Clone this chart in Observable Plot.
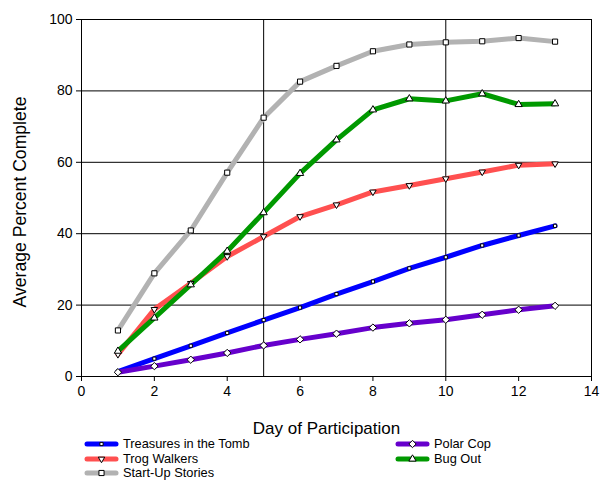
<!DOCTYPE html>
<html>
<head>
<meta charset="utf-8">
<script src="https://cdn.jsdelivr.net/npm/d3@7"></script>
<script src="https://cdn.jsdelivr.net/npm/@observablehq/plot@0.6"></script>
<style>
  html, body { margin: 0; padding: 0; background: #fff; }
  #chart { position: relative; width: 600px; height: 480px; }
  #chart svg { display: block; }
  #legend { position: absolute; left: 0; top: 434px; }
</style>
</head>
<body>
<div id="chart"></div>
<script>
const days = [1, 2, 3, 4, 5, 6, 7, 8, 9, 10, 11, 12, 13];
const seriesNames = ["Treasures in the Tomb", "Trog Walkers", "Start-Up Stories", "Polar Cop", "Bug Out"];
const treasures = [1.4, 5.0, 8.6, 12.2, 15.8, 19.3, 23.1, 26.6, 30.3, 33.4, 36.7, 39.5, 42.2];
const trogWalkers = [6.2, 18.8, 26.1, 33.6, 39.2, 44.8, 48.1, 51.7, 53.5, 55.4, 57.3, 59.2, 59.6];
const startUp = [12.9, 28.9, 40.9, 57.1, 72.5, 82.6, 87.0, 91.1, 93.0, 93.6, 93.9, 94.8, 93.8];
const polarCop = [1.2, 2.9, 4.7, 6.6, 8.7, 10.4, 12.0, 13.7, 14.9, 15.9, 17.3, 18.7, 19.8];
const bugOut = [7.1, 16.4, 25.7, 35.1, 45.9, 56.9, 66.3, 74.7, 77.8, 77.2, 79.2, 76.2, 76.4];
const seriesColors = ["#0000FF", "#FF5050", "#B2B2B2", "#6600CC", "#009900"];
const xTicks = [0, 2, 4, 6, 8, 10, 12, 14];
const yTicks = [0, 20, 40, 60, 80, 100];

const allValues = [treasures, trogWalkers, startUp, polarCop, bugOut];
const symbols = [
  {symbol: "square", r: 1.8, rotate: 0},
  {symbol: "triangle", r: 2.4, rotate: 180},
  {symbol: "square", r: 2.9, rotate: 0},
  {symbol: "diamond2", r: 3.3, rotate: 0},
  {symbol: "triangle", r: 2.7, rotate: 0}
];

const data = seriesNames.flatMap((name, i) =>
  days.map((d, j) => ({series: name, day: d, value: allValues[i][j]}))
);

const font = "'Liberation Sans', Arial, sans-serif";

const chart = Plot.plot({
  width: 600,
  height: 440,
  marginLeft: 81,
  marginRight: 9,
  marginTop: 19,
  marginBottom: 64,
  x: {domain: [0, 14]},
  y: {domain: [0, 100]},
  color: {domain: seriesNames, range: seriesColors},
  style: {fontFamily: font, fontSize: "14px", color: "#000", background: "#fff"},
  marks: [
    Plot.gridY([20, 40, 60, 80], {stroke: "#000", strokeOpacity: 1, strokeWidth: 1}),
    Plot.gridX([5, 10], {stroke: "#000", strokeOpacity: 1, strokeWidth: 1}),
    Plot.frame({stroke: "#000", strokeWidth: 1}),
    Plot.axisX({ticks: xTicks, tickSize: 5, tickPadding: 5, label: null, fontSize: 14, stroke: "#000"}),
    Plot.axisY({ticks: yTicks, tickSize: 5, tickPadding: 4, label: null, fontSize: 14, stroke: "#000"}),
    Plot.text(["Day of Participation"], {frameAnchor: "bottom", dx: -10, dy: 52, fontSize: 17, lineAnchor: "middle", textAnchor: "middle", fill: "#000"}),
    Plot.text(["Average Percent Complete"], {frameAnchor: "left", dx: -61, dy: 4, rotate: -90, fontSize: 17.6, lineAnchor: "middle", textAnchor: "middle", fill: "#000"}),
    Plot.line(data, {x: "day", y: "value", z: "series", stroke: "series", strokeWidth: 5, strokeLinejoin: "round", strokeLinecap: "round"}),
    ...seriesNames.map((name, i) =>
      Plot.dot(data.filter(d => d.series === name), {
        x: "day", y: "value",
        symbol: symbols[i].symbol, r: symbols[i].r, rotate: symbols[i].rotate,
        fill: "#fff", stroke: "#000", strokeWidth: 1
      })
    )
  ]
});
document.getElementById("chart").appendChild(chart);

// Legend below the chart (overlaid, transparent)
const legend = d3.select("#chart").append("svg")
  .attr("id", "legend")
  .attr("width", 600).attr("height", 46)
  .style("font-family", font).style("font-size", "12.8px");
const positions = [
  {x: 85, y: 10}, {x: 85, y: 25}, {x: 85, y: 39},
  {x: 396, y: 10}, {x: 396, y: 25}
];
const symbolMap = {square: d3.symbolSquare, triangle: d3.symbolTriangle, diamond2: d3.symbolDiamond2};
seriesNames.forEach((name, i) => {
  const p = positions[i];
  const g = legend.append("g");
  g.append("line").attr("x1", p.x + 2).attr("x2", p.x + 31).attr("y1", p.y).attr("y2", p.y)
    .attr("stroke", seriesColors[i]).attr("stroke-width", 5).attr("stroke-linecap", "round");
  const s = symbols[i];
  const size = Math.PI * s.r * s.r;
  g.append("path").attr("d", d3.symbol(symbolMap[s.symbol], size)())
    .attr("transform", `translate(${p.x + 16.5},${p.y}) rotate(${s.rotate})`)
    .attr("fill", "#fff").attr("stroke", "#000").attr("stroke-width", 1);
  g.append("text").attr("x", p.x + 38).attr("y", p.y).attr("dy", "0.35em").text(name);
});
</script>
</body>
</html>
